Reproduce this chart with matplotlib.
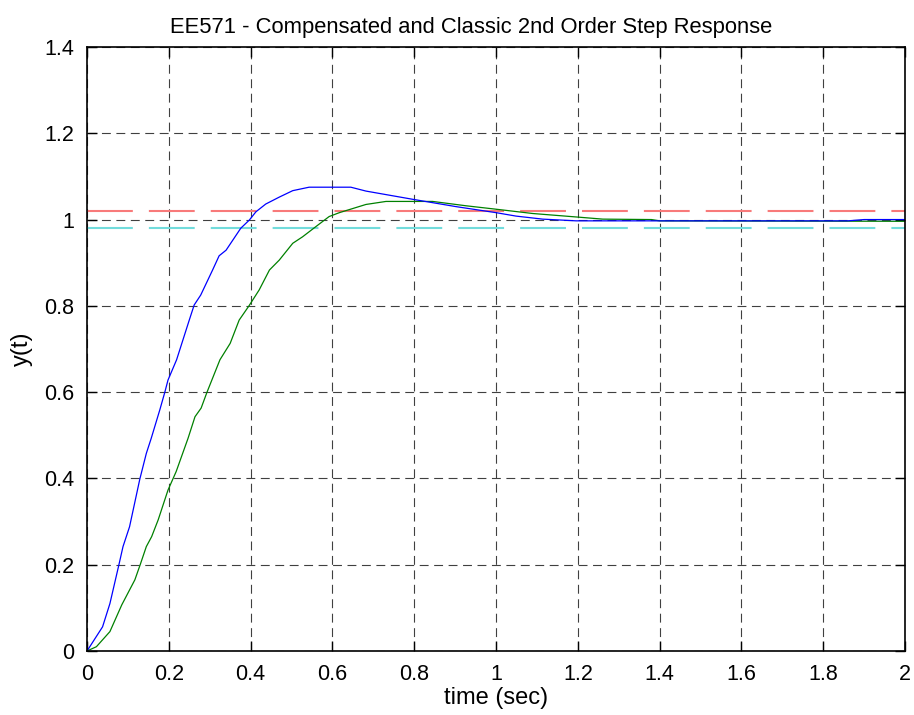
import numpy as np
from matplotlib import pyplot as plt

plt.rcParams['font.family'] = ['Liberation Sans', 'DejaVu Sans']

# compensated response (blue)
t_comp = [0, 0.038, 0.056, 0.078, 0.088, 0.104, 0.129, 0.145, 0.157, 0.178,
          0.19, 0.198, 0.219, 0.25, 0.262, 0.278, 0.307, 0.323, 0.34, 0.376,
          0.397, 0.413, 0.437, 0.47, 0.503, 0.543, 0.645, 0.682, 0.796, 0.902,
          1.0, 1.049, 1.114, 1.196, 1.86, 1.9, 2.0]
y_comp = [0, 0.056, 0.11, 0.20, 0.242, 0.288, 0.398, 0.458, 0.493, 0.559,
          0.599, 0.628, 0.675, 0.767, 0.802, 0.825, 0.883, 0.916, 0.929, 0.980,
          0.999, 1.018, 1.036, 1.052, 1.067, 1.075, 1.075, 1.066, 1.047, 1.030,
          1.016, 1.008, 1.001, 0.997, 0.997, 1.0, 1.0]

# classic 2nd order response (green)
t_classic = [0, 0.023, 0.056, 0.085, 0.117, 0.13, 0.145, 0.158, 0.174, 0.198,
             0.218, 0.247, 0.264, 0.279, 0.293, 0.325, 0.35, 0.372, 0.396, 0.421,
             0.446, 0.47, 0.503, 0.527, 0.56, 0.592, 0.617, 0.682, 0.731, 0.845,
             0.926, 1.0, 1.09, 1.196, 1.261, 1.38, 1.40, 2.0]
y_classic = [0, 0.01, 0.045, 0.107, 0.165, 0.20, 0.242, 0.265, 0.304, 0.373,
             0.416, 0.493, 0.543, 0.563, 0.599, 0.675, 0.713, 0.767, 0.80, 0.837,
             0.883, 0.906, 0.945, 0.960, 0.984, 1.007, 1.016, 1.035, 1.042, 1.042,
             1.032, 1.024, 1.014, 1.006, 1.001, 1.0, 0.997, 0.996]

# 2% settling band
band_hi = 1.02
band_lo = 0.98

fig = plt.figure(figsize=(9.14, 7.15), dpi=100)
ax = fig.add_axes([0.0952, 0.0895, 0.895, 0.8448])

ax.plot([0, 2], [band_hi, band_hi], color='#f87a7a', lw=1.5, dashes=(22, 7.7))
ax.plot([0, 2], [band_lo, band_lo], color='#72dcdc', lw=1.5, dashes=(22, 7.7))
ax.plot(t_classic, y_classic, color='#008000', lw=0.9)
ax.plot(t_comp, y_comp, color='#0000ff', lw=0.9)

ax.set_xlim(0, 2)
ax.set_ylim(0, 1.4)
ax.set_xticks(np.arange(0, 2.01, 0.2))
ax.set_yticks(np.arange(0, 1.41, 0.2))
ax.set_xticklabels(['0', '0.2', '0.4', '0.6', '0.8', '1', '1.2', '1.4', '1.6', '1.8', '2'])
ax.set_yticklabels(['0', '0.2', '0.4', '0.6', '0.8', '1', '1.2', '1.4'])
ax.grid(True, color='0.25', lw=0.8, dashes=(8, 5))
ax.tick_params(direction='in', length=7, width=1, top=True, right=True,
               labelsize=15.5, pad=9)
for s in ax.spines.values():
    s.set_linewidth(1.2)

ax.set_xlabel('time (sec)', fontsize=17, labelpad=2)
ax.set_ylabel('y(t)', fontsize=17, labelpad=8)
ax.set_title('EE571 - Compensated and Classic 2nd Order Step Response',
             fontsize=15.8, pad=10, x=0.47)

fig.savefig('out.png', dpi=100)
